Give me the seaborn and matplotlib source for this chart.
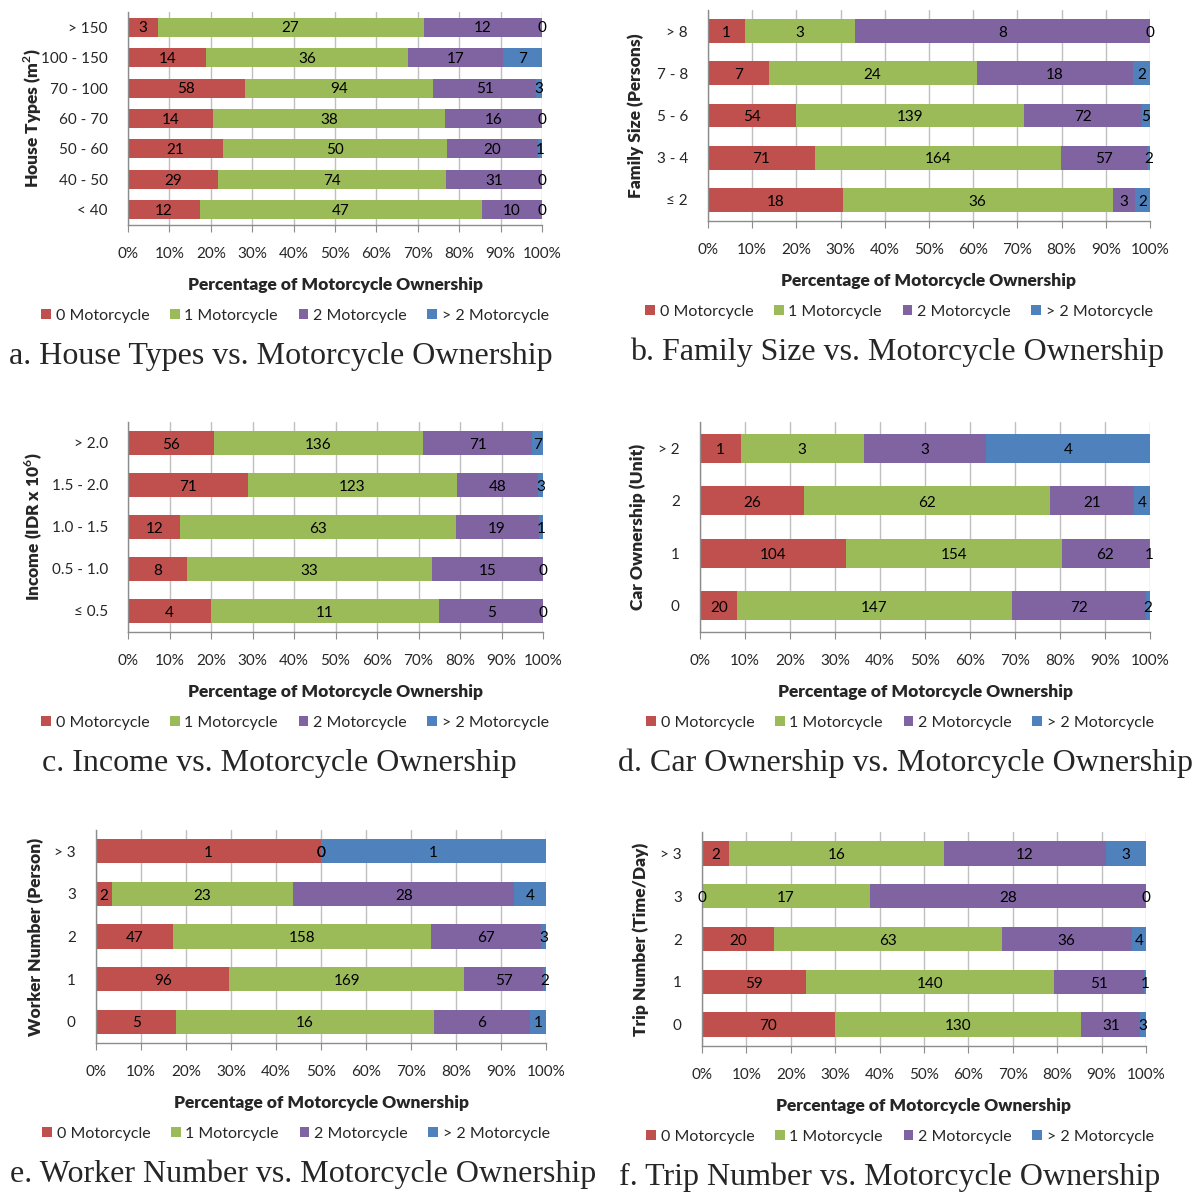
import matplotlib
matplotlib.use("Agg")
import matplotlib.pyplot as plt
from matplotlib.patches import Patch
import numpy as np
import seaborn as sns

# counts, rows listed top -> bottom
series = ["0 Motorcycle", "1 Motorcycle", "2 Motorcycle", "> 2 Motorcycle"]
colors = ["#C0504D", "#9BBB59", "#8064A2", "#4F81BD"]

house_types = ["> 150", "100 - 150", "70 - 100", "60 - 70", "50 - 60", "40 - 50", "< 40"]
house_m0 = [3, 14, 58, 14, 21, 29, 12]
house_m1 = [27, 36, 94, 38, 50, 74, 47]
house_m2 = [12, 17, 51, 16, 20, 31, 10]
house_m3 = [0, 7, 3, 0, 1, 0, 0]

family_size = ["> 8", "7 - 8", "5 - 6", "3 - 4", "≤ 2"]
family_m0 = [1, 7, 54, 71, 18]
family_m1 = [3, 24, 139, 164, 36]
family_m2 = [8, 18, 72, 57, 3]
family_m3 = [0, 2, 5, 2, 2]

income = ["> 2.0", "1.5 - 2.0", "1.0 - 1.5", "0.5 - 1.0", "≤ 0.5"]
income_m0 = [56, 71, 12, 8, 4]
income_m1 = [136, 123, 63, 33, 11]
income_m2 = [71, 48, 19, 15, 5]
income_m3 = [7, 3, 1, 0, 0]

car_own = ["> 2", "2", "1", "0"]
car_m0 = [1, 26, 104, 20]
car_m1 = [3, 62, 154, 147]
car_m2 = [3, 21, 62, 72]
car_m3 = [4, 4, 1, 2]

worker = ["> 3", "3", "2", "1", "0"]
worker_m0 = [1, 2, 47, 96, 5]
worker_m1 = [0, 23, 158, 169, 16]
worker_m2 = [0, 28, 67, 57, 6]
worker_m3 = [1, 4, 3, 2, 1]

trip = ["> 3", "3", "2", "1", "0"]
trip_m0 = [2, 0, 20, 59, 70]
trip_m1 = [16, 17, 63, 140, 130]
trip_m2 = [12, 28, 36, 51, 31]
trip_m3 = [3, 0, 4, 1, 3]

xticks = [0, 10, 20, 30, 40, 50, 60, 70, 80, 90, 100]

sns.set_style("white")
plt.rcParams["font.family"] = ["Lato", "DejaVu Sans"]
plt.rcParams["mathtext.fontset"] = "custom"
plt.rcParams["mathtext.rm"] = "Lato"
plt.rcParams["mathtext.bf"] = "Lato:bold"

W, H = 1201, 1192
fig = plt.figure(figsize=(W / 100, H / 100), dpi=100)


def fx(x):
    return x / W


def fy(y):
    return 1 - y / H


def panel(box, cats, counts, ylabel, ylab_x, caption, cap_x, leg_x, bar_h):
    left, top, right, bottom = box
    ax = fig.add_axes([fx(left), fy(bottom), (right - left) / W, (bottom - top) / H])
    counts = np.array(counts, dtype=float)
    pct = counts / counts.sum(axis=0) * 100
    cum = pct.cumsum(axis=0)
    # draw cumulative bars back to front so they look stacked
    for k in range(3, -1, -1):
        sns.barplot(x=cum[k], y=cats, orient="h", color=colors[k], saturation=1,
                    width=bar_h, errorbar=None, linewidth=0, ax=ax, zorder=2)
    for k in range(4):
        for i in range(len(cats)):
            ax.text(cum[k, i] - pct[k, i] / 2, i + 0.04, str(int(counts[k, i])),
                    ha="center", va="center", fontsize=11, color="black", zorder=3)
    ax.set_xlim(0, 100)
    ax.set_xticks(xticks)
    ax.set_xticklabels([f"{t}%" for t in xticks])
    ax.set_xlabel("")
    ax.set_ylabel("")
    ax.xaxis.grid(True, color="#BFBFBF", lw=1)
    ax.set_axisbelow(True)
    for s in ["top", "right"]:
        ax.spines[s].set_visible(False)
    for s in ["left", "bottom"]:
        ax.spines[s].set_color("#8C8C8C")
        ax.spines[s].set_linewidth(1)
    ax.tick_params(axis="x", bottom=True, length=5, color="#8C8C8C", pad=11, labelsize=11)
    ax.tick_params(axis="y", left=False, pad=11, labelsize=11)

    cx = (left + right) / 2
    fig.text(fx(ylab_x), fy((top + bottom) / 2), ylabel, rotation=90, ha="center",
             va="center", fontsize=12.5, fontweight="heavy")
    fig.text(fx(cx), fy(bottom + 60), "Percentage of Motorcycle Ownership",
             ha="center", va="center", fontsize=12.5, fontweight="heavy")
    handles = [Patch(facecolor=c, edgecolor="none") for c in colors]
    fig.legend(handles, series, loc="center", bbox_to_anchor=(fx(leg_x), fy(bottom + 91)),
               ncol=4, frameon=False, fontsize=11.5, handlelength=0.6, handleheight=0.6,
               handletextpad=0.3, columnspacing=1.3, borderpad=0)
    fig.text(fx(cap_x), fy(bottom + 131), caption, ha="center", va="center",
             fontsize=23, family="Liberation Serif")
    return ax


panel((128, 12, 542, 225), house_types, [house_m0, house_m1, house_m2, house_m3],
      r"House Types (m$^\mathbf{2}$)", 33, "a. House Types vs. Motorcycle Ownership", 281, 295, 0.62)
panel((708, 10, 1150, 221), family_size, [family_m0, family_m1, family_m2, family_m3],
      "Family Size (Persons)", 636, "b. Family Size vs. Motorcycle Ownership", 897, 899, 0.56)
panel((128, 422, 543, 632), income, [income_m0, income_m1, income_m2, income_m3],
      r"Income (IDR x 10$^\mathbf{6}$)", 34, "c. Income vs. Motorcycle Ownership", 279, 295, 0.56)
panel((700, 422, 1150, 632), car_own, [car_m0, car_m1, car_m2, car_m3],
      "Car Ownership (Unit)", 638, "d. Car Ownership vs. Motorcycle Ownership", 906, 900, 0.56)
panel((96, 830, 546, 1043), worker, [worker_m0, worker_m1, worker_m2, worker_m3],
      "Worker Number (Person)", 36, "e. Worker Number vs. Motorcycle Ownership", 303, 296, 0.57)
panel((702, 832, 1146, 1046), trip, [trip_m0, trip_m1, trip_m2, trip_m3],
      "Trip Number (Time/Day)", 641, "f. Trip Number vs. Motorcycle Ownership", 890, 900, 0.57)

fig.savefig("out.png", dpi=100)
